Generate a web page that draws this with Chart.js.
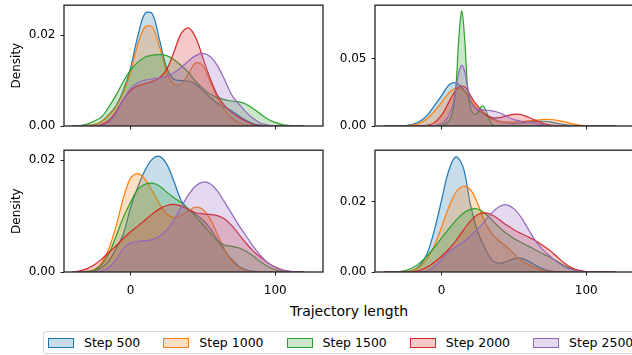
<!DOCTYPE html>
<html><head><meta charset="utf-8">
<script src="https://cdn.jsdelivr.net/npm/chart.js@4/dist/chart.umd.min.js"></script>
<style>
html,body{margin:0;padding:0;background:#fff;width:632px;height:355px;overflow:hidden;position:relative;font-family:"DejaVu Sans",sans-serif;}
.panel{position:absolute;}
#xlabel{position:absolute;left:349px;top:311px;transform:translate(-50%,-50%);font-size:14px;white-space:nowrap;color:#000;}
#legend{position:absolute;left:43px;top:331px;height:23px;width:640px;border:1px solid #d6d6d6;border-radius:3px;display:flex;align-items:center;box-sizing:border-box;padding-left:4px;font-size:12.5px;white-space:nowrap;color:#000;background:#fff;}
.item{display:flex;align-items:center;margin-right:23px;}
.sw{width:26px;height:10px;box-sizing:border-box;margin-right:10px;}
</style></head><body>
<div id="xlabel">Trajectory length</div>
<div id="legend"></div>
<script>
// ---- data ----
const seriesNames = ["Step 500", "Step 1000", "Step 1500", "Step 2000", "Step 2500"];
const xs = [-40,-35,-30,-25,-20,-15,-10,-5,0,5,10,15,20,25,30,35,40,45,50,55,60,65,70,75,80,85,90,95,100,105,110,115,120];
const xsTR = [-40,-35,-30,-25,-20,-15,-10,-5,0,2,4,6,8,10,12,14,16,18,20,22,24,26,28,30,35,40,45,50,55,60,65,70,75,80,85,90,95,100,105,110,115,120];
const xTickValues = [0, 100];

// top-left
const tlStep500  = [0,0,0.0001,0.0003,0.001,0.0025,0.0045,0.0078,0.0128,0.0198,0.0248,0.0247,0.019,0.0128,0.0103,0.0100,0.0099,0.0092,0.0078,0.0063,0.005,0.0042,0.0033,0.0022,0.0012,0.0005,0.0002,0.0001,0,0,0,0,0];
const tlStep1000 = [0,0,0.0001,0.0003,0.001,0.0024,0.0043,0.0074,0.012,0.018,0.0218,0.0218,0.0175,0.0118,0.0092,0.0092,0.0115,0.0139,0.0133,0.0098,0.0062,0.0035,0.0018,0.0007,0.0002,0,0,0,0,0,0,0,0];
const tlStep1500 = [0,0.0001,0.0004,0.0011,0.002,0.0042,0.0068,0.0098,0.0123,0.014,0.0152,0.0156,0.0157,0.0155,0.0146,0.0133,0.0118,0.0098,0.0083,0.007,0.0063,0.0058,0.0055,0.0053,0.0048,0.0038,0.0026,0.0015,0.0008,0.0003,0.0001,0,0];
const tlStep2000 = [0,0,0,0,0.0003,0.0012,0.0032,0.0058,0.0078,0.0088,0.0093,0.0098,0.0106,0.0125,0.0163,0.0204,0.0216,0.0195,0.015,0.0105,0.0068,0.0045,0.003,0.0019,0.001,0.0003,0.0001,0,0,0,0,0,0];
const tlStep2500 = [0,0,0,0,0.0001,0.0009,0.0028,0.0058,0.0082,0.0095,0.0101,0.0104,0.0106,0.0109,0.0117,0.0129,0.0143,0.0155,0.016,0.0153,0.0133,0.0102,0.0068,0.0048,0.003,0.0016,0.0006,0.0002,0,0,0,0,0];
const tlYTicks = [0, 0.02];

// top-right
const trStep500  = [0,0,0,0.0003,0.0012,0.0035,0.0078,0.015,0.0225,0.026,0.029,0.031,0.032,0.0318,0.0305,0.0285,0.026,0.0225,0.0185,0.015,0.0125,0.011,0.0098,0.0085,0.0055,0.0035,0.0025,0.002,0.0022,0.003,0.0035,0.0035,0.003,0.002,0.001,0.0004,0.0001,0,0,0,0,0];
const trStep1000 = [0,0,0,0.0002,0.0008,0.0022,0.0055,0.0108,0.0175,0.0205,0.023,0.0255,0.027,0.0278,0.028,0.0272,0.0252,0.0225,0.0195,0.0165,0.014,0.0118,0.01,0.0082,0.0048,0.0033,0.0029,0.003,0.0033,0.0038,0.0044,0.0048,0.0048,0.0042,0.003,0.0017,0.0007,0.0002,0,0,0,0];
const trStep1500 = [0,0,0,0,0,0,0,0,0.0005,0.0012,0.0025,0.005,0.012,0.03,0.066,0.085,0.064,0.028,0.013,0.0092,0.0088,0.0115,0.0148,0.013,0.0008,0.0001,0,0,0,0,0,0,0,0,0,0,0,0,0,0,0,0];
const trStep2000 = [0,0,0,0,0,0,0.0005,0.0025,0.008,0.0115,0.0155,0.0195,0.0235,0.0268,0.029,0.0296,0.029,0.0265,0.0225,0.0188,0.0162,0.0135,0.011,0.009,0.0062,0.0062,0.0075,0.0086,0.0085,0.0065,0.0042,0.002,0.0007,0.0002,0,0,0,0,0,0,0,0];
const trStep2500 = [0,0,0,0,0,0,0,0.0003,0.002,0.0035,0.006,0.0105,0.016,0.028,0.04,0.045,0.040,0.029,0.019,0.0145,0.0128,0.0122,0.012,0.0118,0.0112,0.0098,0.0072,0.0048,0.0035,0.0028,0.002,0.001,0.0003,0,0,0,0,0,0,0,0,0];
const trYTicks = [0, 0.05];

// bottom-left
const blStep500  = [0,0,0,0.0002,0.0008,0.002,0.0042,0.0068,0.0115,0.0152,0.0182,0.0202,0.0207,0.0193,0.0162,0.0128,0.0112,0.0103,0.0093,0.0078,0.0058,0.0038,0.0022,0.001,0.0004,0.0001,0,0,0,0,0,0,0];
const blStep1000 = [0,0,0.0001,0.0004,0.0016,0.0042,0.0082,0.0132,0.0168,0.0176,0.0166,0.0145,0.0122,0.0104,0.0097,0.0101,0.011,0.0116,0.0112,0.0095,0.0068,0.004,0.002,0.0008,0.0002,0,0,0,0,0,0,0,0];
const blStep1500 = [0,0,0.0001,0.0004,0.0013,0.0033,0.0064,0.0098,0.0125,0.0148,0.0157,0.0159,0.0154,0.0143,0.0133,0.0124,0.0113,0.0099,0.0085,0.007,0.0056,0.0048,0.0046,0.0043,0.0037,0.0028,0.0018,0.001,0.0004,0.0001,0,0,0];
const blStep2000 = [0,0.0002,0.0006,0.0013,0.0023,0.0035,0.0047,0.006,0.0072,0.0082,0.0093,0.0104,0.0113,0.0119,0.0121,0.0118,0.0112,0.0106,0.0104,0.0103,0.0101,0.0095,0.0083,0.0067,0.0051,0.0037,0.0026,0.0016,0.0009,0.0004,0.0001,0,0];
const blStep2500 = [0,0,0,0,0.0002,0.0008,0.0022,0.0042,0.0052,0.0055,0.0056,0.0058,0.0064,0.0075,0.0093,0.0116,0.0138,0.0154,0.0161,0.0158,0.0145,0.0125,0.0104,0.0083,0.0064,0.0045,0.0029,0.0016,0.0008,0.0003,0.0001,0,0];
const blYTicks = [0, 0.02];

// bottom-right
const brStep500  = [0,0,0,0.0001,0.0005,0.0019,0.0052,0.0119,0.0205,0.029,0.0329,0.0298,0.0192,0.0115,0.0068,0.0033,0.0025,0.003,0.0038,0.0039,0.0031,0.0019,0.0009,0.0003,0.0001,0,0,0,0,0,0,0,0];
const brStep1000 = [0,0,0,0.0001,0.0004,0.0015,0.0038,0.0075,0.0128,0.0185,0.0228,0.0245,0.0235,0.0195,0.0142,0.0108,0.0088,0.0072,0.0052,0.0033,0.0021,0.0011,0.0004,0.0001,0,0,0,0,0,0,0,0,0];
const brStep1500 = [0,0,0.0001,0.0004,0.0012,0.0026,0.0046,0.007,0.0097,0.0123,0.0148,0.0168,0.0179,0.018,0.0168,0.0148,0.0127,0.011,0.0096,0.0085,0.0074,0.0063,0.0052,0.0042,0.003,0.0018,0.0009,0.0003,0.0001,0,0,0,0];
const brStep2000 = [0,0,0,0,0.0001,0.0005,0.0014,0.0028,0.0045,0.0065,0.009,0.0119,0.0146,0.0164,0.0169,0.0163,0.0149,0.0134,0.0121,0.011,0.01,0.0089,0.0076,0.0061,0.0043,0.0025,0.0012,0.0005,0.0001,0,0,0,0];
const brStep2500 = [0,0,0,0,0,0,0.0003,0.0015,0.0036,0.0058,0.0072,0.0085,0.0103,0.0123,0.0146,0.017,0.0187,0.0192,0.0181,0.0156,0.0122,0.0089,0.0064,0.0045,0.0028,0.0015,0.0007,0.0002,0.0001,0,0,0,0];
const brYTicks = [0, 0.02];

// ---- styling / layout ----
const colors = ['#1f77b4', '#ff7f0e', '#2ca02c', '#d62728', '#9467bd'];
const fills = ['rgba(31,119,180,0.25)', 'rgba(255,127,14,0.25)', 'rgba(44,160,44,0.25)', 'rgba(214,39,40,0.25)', 'rgba(148,103,189,0.25)'];

Chart.defaults.font.family = '"DejaVu Sans", sans-serif';
Chart.defaults.font.size = 12;
Chart.defaults.color = '#000';

const framePlugin = {
  id: 'frame',
  afterDraw(chart) {
    const {ctx, chartArea: a} = chart;
    ctx.save();
    ctx.strokeStyle = '#222';
    ctx.lineWidth = 1.3;
    ctx.strokeRect(a.left, a.top, a.right - a.left, a.bottom - a.top);
    ctx.restore();
  }
};

const X_MIN = -46, X_MAX = 133;
// desired plot-area rectangles in page pixels
const panels = [
  {area: [64, 5, 323, 126],        x: xs,   s: [tlStep500, tlStep1000, tlStep1500, tlStep2000, tlStep2500], yMax: 0.0266, yt: tlYTicks, xl: false, title: true,  wy: 64},
  {area: [375, 5, 634, 126],       x: xsTR, s: [trStep500, trStep1000, trStep1500, trStep2000, trStep2500], yMax: 0.0894, yt: trYTicks, xl: false, title: false, wy: 60},
  {area: [64, 150, 323, 272],      x: xs,   s: [blStep500, blStep1000, blStep1500, blStep2000, blStep2500], yMax: 0.0218, yt: blYTicks, xl: true,  title: true,  wy: 64},
  {area: [375, 150, 634, 272],     x: xs,   s: [brStep500, brStep1000, brStep1500, brStep2000, brStep2500], yMax: 0.0348, yt: brYTicks, xl: true,  title: false, wy: 60},
];
const HX = 28;

function build(p, W, H) {
  const div = document.createElement('div');
  div.className = 'panel';
  div.style.width = W + 'px'; div.style.height = H + 'px';
  const cv = document.createElement('canvas');
  cv.width = W; cv.height = H;
  cv.style.width = W + 'px'; cv.style.height = H + 'px';
  div.appendChild(cv);
  document.body.appendChild(div);
  const datasets = p.s.map((vals, i) => ({
    label: seriesNames[i],
    data: p.x.map((xv, j) => ({x: xv, y: vals[j]})),
    borderColor: colors[i],
    backgroundColor: fills[i],
    borderWidth: 1.2,
    fill: 'origin',
    pointRadius: 0,
    tension: 0.35,
    order: 4 - i
  }));
  const chart = new Chart(cv, {
    type: 'line',
    data: {datasets},
    options: {
      responsive: false,
      animation: false,
      devicePixelRatio: 1,
      layout: {autoPadding: false, padding: {top: 2, left: 0, right: 2, bottom: 0}},
      plugins: {legend: {display: false}, tooltip: {enabled: false}},
      scales: {
        x: {
          type: 'linear', min: X_MIN, max: X_MAX,
          afterBuildTicks: sc => { sc.ticks = xTickValues.map(v => ({value: v})); },
          afterFit: sc => { sc.height = HX; },
          grid: {drawOnChartArea: false, drawTicks: true, tickLength: 3.5, color: '#222', lineWidth: 1},
          border: {display: false},
          ticks: {display: p.xl, autoSkip: false, maxRotation: 0, padding: 8, font: {size: 12}, color: '#000', callback: v => String(v)}
        },
        y: {
          type: 'linear', min: 0, max: p.yMax,
          afterBuildTicks: sc => { sc.ticks = p.yt.map(v => ({value: v})); },
          afterFit: sc => { sc.width = p.wy; },
          grid: {drawOnChartArea: false, drawTicks: true, tickLength: 3.5, color: '#222', lineWidth: 1},
          border: {display: false},
          ticks: {autoSkip: false, padding: 5, font: {size: 12}, color: '#000', callback: v => Number(v).toFixed(2)},
          title: {display: p.title, text: 'Density', font: {size: 12}, color: '#000', padding: {top: 10, bottom: 0}}
        }
      }
    },
    plugins: [framePlugin]
  });
  return {div, chart};
}

panels.forEach(p => {
  const [L, T, R, B] = p.area;
  const w0 = p.wy + (R - L) + 2, h0 = (B - T) + HX + 12;
  // first pass: measure where the plot area lands
  let r = build(p, w0, h0);
  let ca = r.chart.chartArea;
  const W = Math.round(w0 + (R - L) - (ca.right - ca.left));
  const H = Math.round(h0 + (B - T) - (ca.bottom - ca.top));
  r.chart.destroy(); r.div.remove();
  // second pass with corrected size, then place so plot area matches
  r = build(p, W, H);
  ca = r.chart.chartArea;
  r.div.style.left = Math.round(L - ca.left) + 'px';
  r.div.style.top = Math.round(T - ca.top) + 'px';
});

// legend (HTML)
const leg = document.getElementById('legend');
seriesNames.forEach((n, i) => {
  const it = document.createElement('div'); it.className = 'item';
  const sw = document.createElement('div'); sw.className = 'sw';
  sw.style.background = fills[i]; sw.style.border = '1.3px solid ' + colors[i];
  const tx = document.createElement('span'); tx.textContent = n;
  it.appendChild(sw); it.appendChild(tx); leg.appendChild(it);
});
</script>
</body></html>
